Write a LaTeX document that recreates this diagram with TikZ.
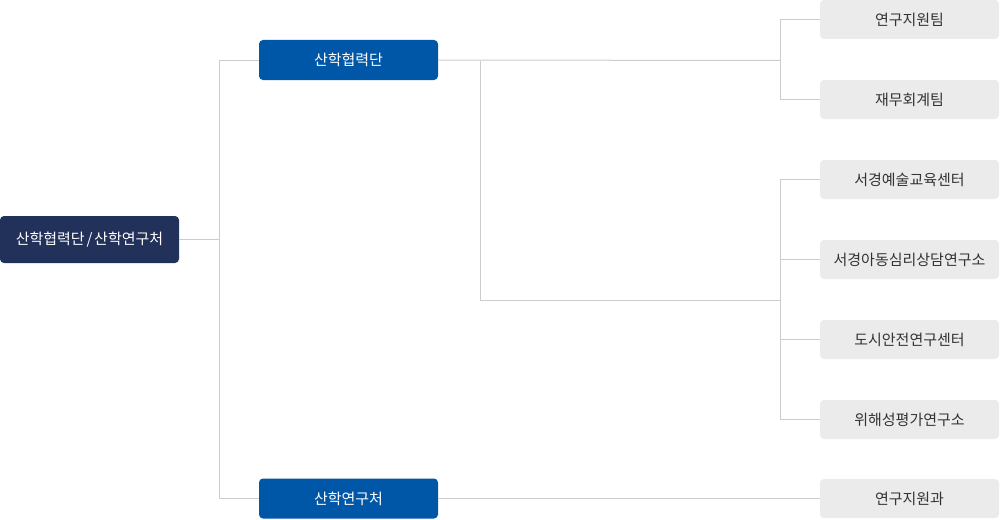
\documentclass[tikz,border=0pt]{standalone}
\usepackage{fontspec}
\setmainfont{Noto Sans CJK KR}
\definecolor{navy}{HTML}{22315A}
\definecolor{blueb}{HTML}{0057A8}
\definecolor{grayb}{HTML}{EBEBEB}
\definecolor{linec}{HTML}{CCCCCC}
\definecolor{txtc}{HTML}{333333}
\begin{document}
\begin{tikzpicture}[x=1pt,y=-1pt,
  base/.style={rounded corners=4pt, minimum width=179pt, inner sep=0pt, font=\fontsize{15}{17}\selectfont},
  rootbox/.style={base, fill=navy, text=white, minimum height=47pt},
  bluebox/.style={base, fill=blueb, text=white, minimum height=40pt},
  graybox/.style={base, fill=grayb, text=txtc, minimum height=39pt},
  conn/.style={draw=linec, line width=1pt}]
\useasboundingbox (0,0) rectangle (1000,519);
\node[rootbox] (root) at (89.5,239.5) {산학협력단\hspace{0.12em}/\hspace{0.12em}산학연구처};
\node[bluebox] (b1) at (348.5,60) {산학협력단};
\node[bluebox] (b2) at (348.5,498.5) {산학연구처};
\node[graybox] (g1) at (909.5,19.5) {연구지원팀};
\node[graybox] (g2) at (909.5,99.5) {재무회계팀};
\node[graybox] (g3) at (909.5,179.5) {서경예술교육센터};
\node[graybox] (g4) at (909.5,259.5) {서경아동심리상담연구소};
\node[graybox] (g5) at (909.5,339.5) {도시안전연구센터};
\node[graybox] (g6) at (909.5,419.5) {위해성평가연구소};
\node[graybox] (g7) at (909.5,498.5) {연구지원과};
\coordinate (j0) at (219.5,239.5);
\coordinate (j1) at (480.5,300.5);
\coordinate (j2) at (780.5,60.5);
\coordinate (j3) at (780.5,300.5);
% root to level 1
\draw[conn] (root.east) -- (j0);
\draw[conn] (b1.west) -| (j0) |- (b2.west);
% 산학협력단 branches
\draw[conn] (b1.east) -- (j2);
\draw[conn] (g1.west) -| (j2) |- (g2.west);
\draw[conn] (480.5,60.5) -- (j1) -- (j3);
\draw[conn] (g3.west) -| (j3) |- (g6.west);
\draw[conn] (g4.west) -- (g4.west -| j3);
\draw[conn] (g5.west) -- (g5.west -| j3);
% 산학연구처
\draw[conn] (b2.east) -- (g7.west);
\end{tikzpicture}
\end{document}
